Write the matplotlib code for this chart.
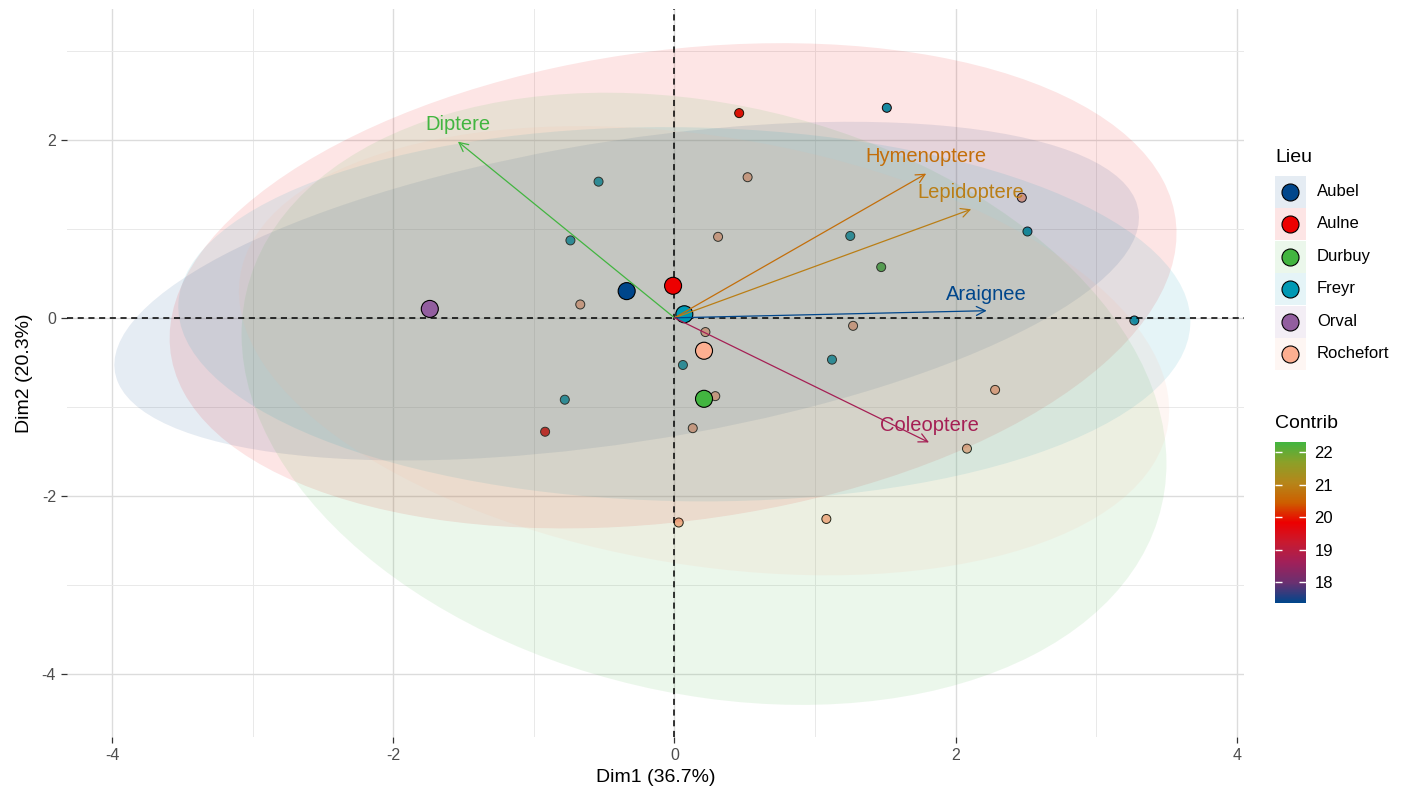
import numpy as np
import matplotlib
import matplotlib.pyplot as plt
from matplotlib.patches import Ellipse, Rectangle
from matplotlib.colors import LinearSegmentedColormap, Normalize
from matplotlib.ticker import MultipleLocator

plt.rcParams['font.family'] = ['Liberation Sans', 'DejaVu Sans']
plt.rcParams['axes.unicode_minus'] = False

# groups (Lancet palette)
groups = ["Aubel", "Aulne", "Durbuy", "Freyr", "Orval", "Rochefort"]
group_cols = ["#00468B", "#ED0000", "#42B540", "#0099B4", "#925E9F", "#FDAF91"]

# individuals
ind_group = ["Freyr", "Aulne", "Freyr", "Rochefort", "Freyr", "Rochefort", "Freyr",
             "Rochefort", "Freyr", "Durbuy", "Rochefort", "Rochefort", "Rochefort",
             "Freyr", "Freyr", "Freyr", "Rochefort", "Rochefort", "Freyr",
             "Rochefort", "Aulne", "Rochefort", "Rochefort", "Rochefort"]
ind_x = [1.51, 0.46, -0.54, 0.52, -0.74, 0.31, 1.25, 2.47, 2.51, 1.47, -0.67,
         1.27, 0.22, 0.06, 1.12, 3.27, 2.28, 0.29, -0.78, 0.13, -0.92, 2.08,
         1.08, 0.03]
ind_y = [2.36, 2.30, 1.53, 1.58, 0.87, 0.91, 0.92, 1.35, 0.97, 0.57, 0.15,
         -0.09, -0.16, -0.53, -0.47, -0.03, -0.81, -0.88, -0.92, -1.24, -1.28,
         -1.47, -2.26, -2.30]

# group mean points
mean_x = [-0.34, -0.01, 0.21, 0.07, -1.74, 0.21]
mean_y = [0.30, 0.36, -0.91, 0.04, 0.10, -0.37]

# confidence ellipses (centre, semi-axes, angle in degrees)
ell_groups = ["Aubel", "Aulne", "Durbuy", "Freyr", "Rochefort"]
ell_cx = [-0.34, -0.01, 0.21, 0.07, 0.21]
ell_cy = [0.30, 0.36, -0.91, 0.04, -0.37]
ell_a = [3.76, 3.68, 3.71, 3.60, 3.44]
ell_b = [1.66, 2.59, 2.98, 2.10, 2.34]
ell_ang = [16, 19, -51, -2, -22]

# variables
var_names = ["Diptere", "Hymenoptere", "Lepidoptere", "Araignee", "Coleoptere"]
var_x = [-1.54, 1.79, 2.11, 2.22, 1.81]
var_y = [1.98, 1.62, 1.22, 0.08, -1.40]
var_contrib = [22.31, 20.70, 20.95, 17.36, 18.68]

# blue -> red -> green gradient (roughly Lab-like intermediate stops)
grad_cols = ["#00468B", "#6A3070", "#A0205A", "#C81A30", "#ED0000",
             "#CD5F00", "#B5861A", "#8CA028", "#42B540"]
cmap = LinearSegmentedColormap.from_list("contrib", grad_cols)
norm = Normalize(vmin=min(var_contrib), vmax=max(var_contrib))
col_of = dict(zip(groups, group_cols))

fig = plt.figure(figsize=(14.11, 7.96), dpi=100)
ax = fig.add_axes([67 / 1411, 1 - 737 / 796, 1177 / 1411, 728 / 796])

ax.scatter(ind_x, ind_y, s=42, c=[col_of[g] for g in ind_group],
           edgecolors="black", linewidths=0.7, zorder=2)

for g, cx, cy, a, b, ang in zip(ell_groups, ell_cx, ell_cy, ell_a, ell_b, ell_ang):
    ax.add_patch(Ellipse((cx, cy), 2 * a, 2 * b, angle=ang, facecolor=col_of[g],
                         edgecolor="none", alpha=0.1, zorder=3))

ax.axhline(0, color="black", ls=(0, (4, 3)), lw=1.1, zorder=4)
ax.axvline(0, color="black", ls=(0, (4, 3)), lw=1.1, zorder=4)

ax.scatter(mean_x, mean_y, s=150, c=group_cols, edgecolors="black",
           linewidths=0.8, zorder=5)

for name, x, y, ctr in zip(var_names, var_x, var_y, var_contrib):
    c = cmap(norm(ctr))
    ax.annotate("", xy=(x, y), xytext=(0, 0),
                arrowprops=dict(arrowstyle="->", color=c, lw=0.9,
                                mutation_scale=16, shrinkA=0, shrinkB=0),
                zorder=6)
    ax.annotate(name, xy=(x, y), xytext=(0, 12), textcoords="offset points",
                ha="center", va="center", color=c, fontsize=14.5, zorder=7)

ax.set_xlim(-4.32, 4.05)
ax.set_ylim(-4.71, 3.47)
ax.xaxis.set_major_locator(MultipleLocator(2))
ax.yaxis.set_major_locator(MultipleLocator(2))
ax.xaxis.set_minor_locator(MultipleLocator(1))
ax.yaxis.set_minor_locator(MultipleLocator(1))
ax.grid(which="major", color="#DCDCDC", lw=1.0, zorder=0)
ax.grid(which="minor", color="#E9E9E9", lw=0.7, zorder=0)
ax.set_axisbelow(True)
for s in ax.spines.values():
    s.set_visible(False)
ax.tick_params(which="major", length=4, width=0.9, color="#333333",
               labelcolor="#4D4D4D", labelsize=11.5, pad=4)
ax.tick_params(which="minor", length=0)
ax.set_xlabel("Dim1 (36.7%)", fontsize=14, labelpad=4)
ax.set_ylabel("Dim2 (20.3%)", fontsize=14, labelpad=6)

# legend drawn in pixel coordinates
lax = fig.add_axes([0, 0, 1, 1], zorder=10)
lax.set_xlim(0, 1411)
lax.set_ylim(796, 0)
lax.axis("off")
lax.text(1275, 157, "Lieu", fontsize=14, va="center", ha="left")
for i, (g, c) in enumerate(zip(groups, group_cols)):
    yc = 191.5 + 32.5 * i
    lax.add_patch(Rectangle((1275, yc - 16), 31, 32, facecolor=c, alpha=0.1,
                            edgecolor="none"))
    lax.scatter([1290], [yc], s=150, c=[c], edgecolors="black", linewidths=0.8)
    lax.text(1317, yc, g, fontsize=12, va="center", ha="left")
lax.text(1275, 423, "Contrib", fontsize=14, va="center", ha="left")

cax = fig.add_axes([1275 / 1411, 1 - 603 / 796, 31 / 1411, 161 / 796])
cb = fig.colorbar(matplotlib.cm.ScalarMappable(norm=norm, cmap=cmap), cax=cax)
cb.outline.set_visible(False)
cb.set_ticks([18, 19, 20, 21, 22])
cax.tick_params(axis="y", direction="in", length=5, width=1, color="white",
                left=True, right=True, labelsize=12, pad=6)

fig.savefig("out.png", dpi=100, facecolor="white")
